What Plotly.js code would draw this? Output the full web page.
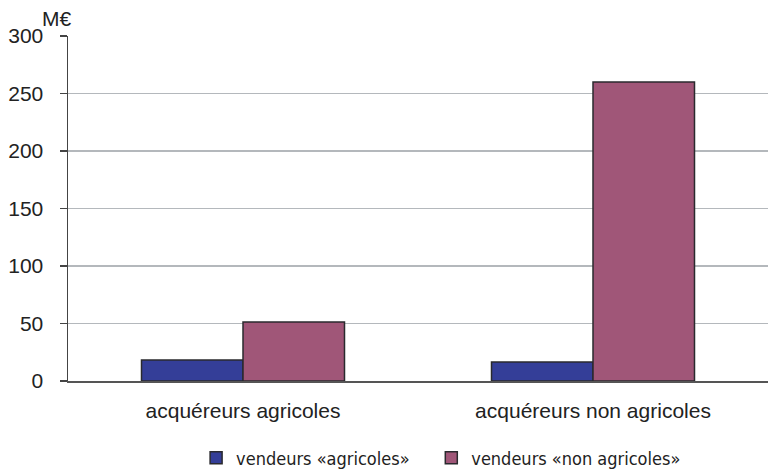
<!DOCTYPE html>
<html>
<head>
<meta charset="utf-8">
<script src="https://cdn.plot.ly/plotly-3.0.1.min.js"></script>
<style>
  html, body { margin: 0; padding: 0; background: #fff; }
  #chart { width: 769px; height: 472px; }
</style>
</head>
<body>
<div id="chart"></div>
<script>
// Purchasers grouped by category, amounts in millions of euros
const categories = ['acquéreurs agricoles', 'acquéreurs non agricoles'];
const seriesNames = ['vendeurs «agricoles»', 'vendeurs «non agricoles»'];
const vendeursAgricoles = [18.3, 16.5];
const vendeursNonAgricoles = [51.4, 260];
const yTicks = [0, 50, 100, 150, 200, 250, 300];

const colors = ['#343e98', '#a05678'];
const edge = '#2a2a2e';

const traces = [
  {
    type: 'bar', name: seriesNames[0], x: categories, y: vendeursAgricoles,
    legend: 'legend',
    marker: { color: colors[0], line: { color: edge, width: 1.5 } }
  },
  {
    type: 'bar', name: seriesNames[1], x: categories, y: vendeursNonAgricoles,
    legend: 'legend2',
    marker: { color: colors[1], line: { color: edge, width: 1.5 } }
  }
];

const legendFont = { family: 'DejaVu Sans Condensed, Liberation Sans, sans-serif', size: 18, color: '#222' };

const layout = {
  width: 769, height: 472,
  margin: { l: 68, r: 1, t: 36, b: 91, autoexpand: false },
  paper_bgcolor: '#ffffff', plot_bgcolor: '#ffffff',
  font: { family: 'Liberation Sans, Arial, sans-serif', size: 21, color: '#222' },
  barmode: 'group', bargap: 0.42, bargroupgap: 0,
  showlegend: true,
  legend: {
    orientation: 'h', x: 0.183, xanchor: 'left', y: -0.17, yanchor: 'top',
    font: legendFont
  },
  legend2: {
    orientation: 'h', x: 0.519, xanchor: 'left', y: -0.17, yanchor: 'top',
    font: legendFont
  },
  xaxis: {
    type: 'category', showgrid: false, zeroline: false,
    showline: true, linecolor: '#555', linewidth: 1.5,
    ticks: '', tickfont: { size: 21 }, ticklabelstandoff: 10
  },
  yaxis: {
    range: [0, 300], tickvals: yTicks, ticktext: yTicks.map(String),
    showgrid: true, gridcolor: '#b4b8bc', gridwidth: 1.5,
    zeroline: false, showline: true, linecolor: '#444', linewidth: 1.5,
    ticks: 'outside', ticklen: 7, tickcolor: '#444', tickwidth: 1.5,
    tickfont: { size: 21 }, ticklabelstandoff: 12
  },
  annotations: [{
    text: 'M€', xref: 'paper', yref: 'paper', x: -0.017, y: 1.0, yshift: 4,
    xanchor: 'center', yanchor: 'bottom', showarrow: false,
    font: { size: 21, color: '#222' }
  }]
};

Plotly.newPlot('chart', traces, layout, { displayModeBar: false, staticPlot: true });
</script>
</body>
</html>
